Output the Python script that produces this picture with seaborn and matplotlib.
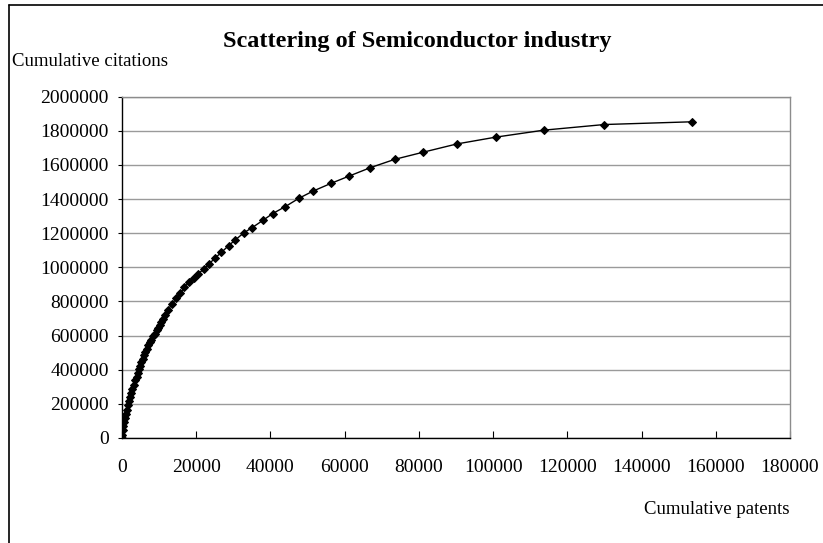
import matplotlib
matplotlib.use("Agg")
import matplotlib.pyplot as plt
from matplotlib.lines import Line2D
import seaborn as sns
import pandas as pd

# Cumulative patents vs cumulative citations for the semiconductor industry
cum_patents = [
    0, 50, 150, 300, 600, 800, 1050, 1300, 1600, 1900, 2200, 2500, 2800,
    3200, 3600, 3950, 4300, 4600, 4900, 5250, 5600, 5950, 6300, 6700, 7100,
    7500, 7900, 8400, 8900, 9300, 9700, 10150, 10600, 11100, 11600, 12500,
    13400, 14600, 15700, 16800, 18000, 19300, 20400, 22000, 23500, 25000,
    26800, 28700, 30500, 32800, 35100, 38000, 40600, 44000, 47700, 51400,
    56400, 61100, 66900, 73500, 81200, 90200, 100700, 113700, 130000, 153600,
]
cum_citations = [
    0, 20000, 44000, 68000, 93000, 118000, 142000, 166000, 191000, 215000,
    240000, 265000, 289000, 313000, 338000, 360000, 381000, 402000, 422000,
    444000, 465000, 485000, 504000, 524000, 543000, 560000, 577000, 595000,
    612000, 630000, 647000, 664000, 680000, 700000, 720000, 753000, 784000,
    818000, 847000, 883000, 912000, 935000, 959000, 990000, 1021000, 1053000,
    1088000, 1127000, 1160000, 1202000, 1233000, 1276000, 1315000, 1356000,
    1405000, 1446000, 1493000, 1534000, 1584000, 1633000, 1675000, 1723000,
    1763000, 1804000, 1837000, 1853000,
]

x_ticks = [0, 20000, 40000, 60000, 80000, 100000, 120000, 140000, 160000, 180000]
y_ticks = [0, 200000, 400000, 600000, 800000, 1000000, 1200000, 1400000,
           1600000, 1800000, 2000000]

title = "Scattering of Semiconductor industry"
y_title = "Cumulative citations"
x_title = "Cumulative patents"

df = pd.DataFrame({"patents": cum_patents, "citations": cum_citations})

sns.set_theme(style="white")
plt.rcParams["font.family"] = ["Liberation Serif", "DejaVu Serif"]

W, H = 823, 543
fig = plt.figure(figsize=(W / 100, H / 100), dpi=100)
ax = fig.add_axes([122 / W, 1 - 438 / H, (790 - 122) / W, (438 - 96.7) / H])

sns.lineplot(data=df, x="patents", y="citations", ax=ax, sort=False,
             color="black", linewidth=1.0, marker="D", markersize=4.3,
             markeredgecolor="black", markerfacecolor="black", zorder=3)

ax.set_xlim(0, 180000)
ax.set_ylim(0, 2000000)
ax.set_xticks(x_ticks)
ax.set_yticks(y_ticks)
ax.set_xticklabels([str(v) for v in x_ticks])
ax.set_yticklabels([str(v) for v in y_ticks])
ax.set_xlabel("")
ax.set_ylabel("")

ax.yaxis.grid(True, color="#9a9a9a", linewidth=1.0)
ax.xaxis.grid(False)
ax.set_axisbelow(True)

for side in ("top", "right"):
    ax.spines[side].set_color("#8c8c8c")
    ax.spines[side].set_linewidth(1.0)
for side in ("left", "bottom"):
    ax.spines[side].set_color("black")
    ax.spines[side].set_linewidth(1.0)

ax.tick_params(axis="x", direction="in", length=5, width=0.8, color="black",
               pad=15, labelsize=14, labelcolor="black", bottom=True)
ax.tick_params(axis="y", direction="out", length=3, width=0.8, color="black",
               pad=6.5, labelsize=14, labelcolor="black", left=True)

fig.text(417 / W, 1 - 41 / H, title, ha="center", va="center",
         fontsize=17.5, fontweight="bold", color="black")
fig.text(12 / W, 1 - 62 / H, y_title, ha="left", va="center",
         fontsize=13.5, color="black")
fig.text(790 / W, 1 - 509 / H, x_title, ha="right", va="center",
         fontsize=13.5, color="black")

# Chart-area border (top and left edges)
fig.add_artist(Line2D([9.3 / W, 9.3 / W], [0, 1 - 5.3 / H],
                      transform=fig.transFigure, color="black", linewidth=1.2))
fig.add_artist(Line2D([9.3 / W, 1], [1 - 5.3 / H, 1 - 5.3 / H],
                      transform=fig.transFigure, color="black", linewidth=1.2))

fig.savefig("out.png", dpi=100, facecolor="white")
